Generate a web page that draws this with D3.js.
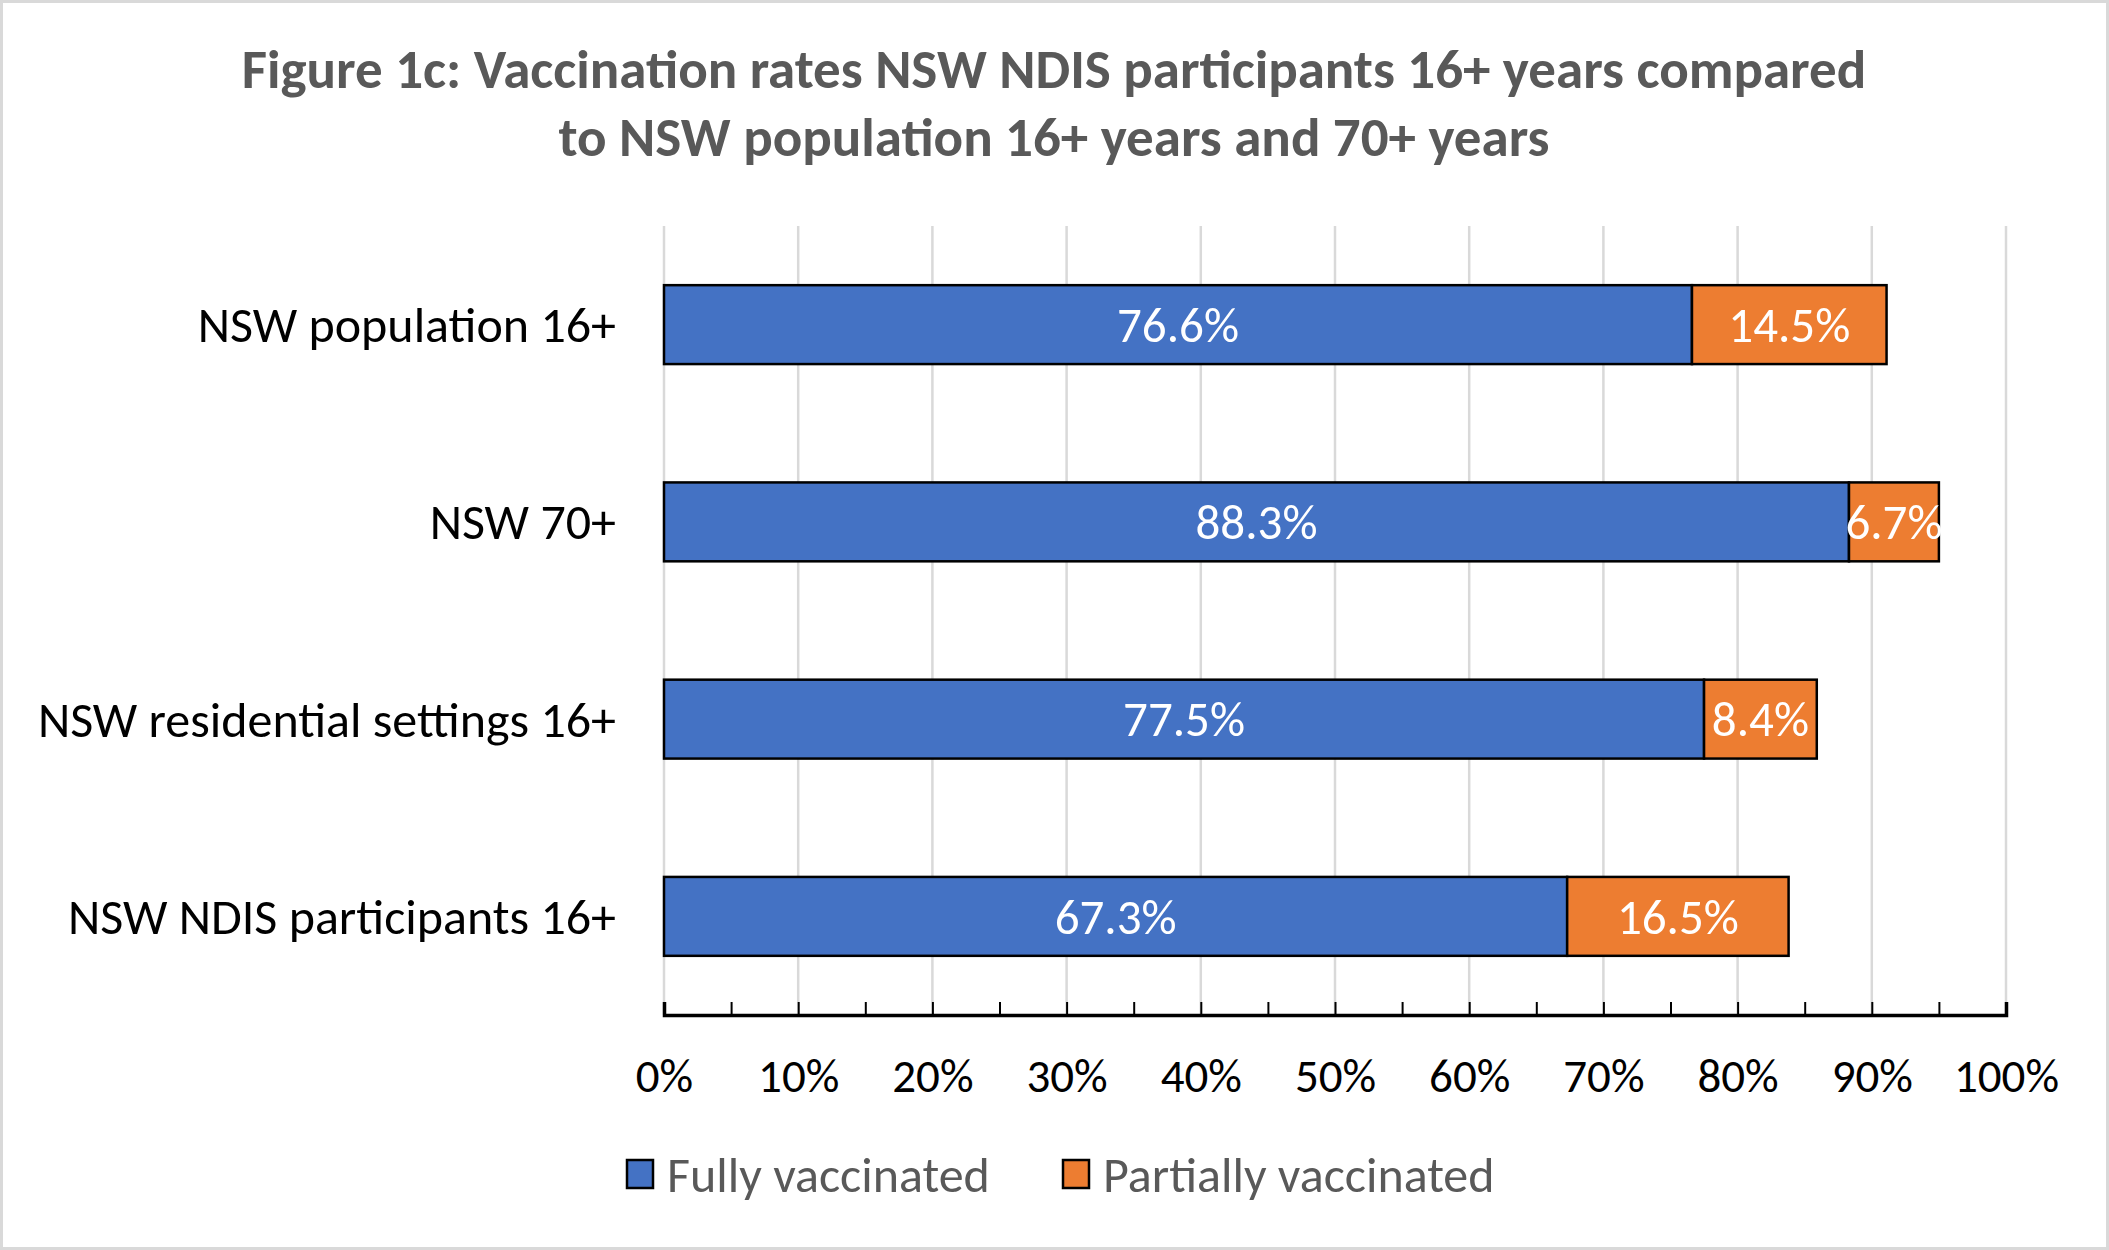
<!DOCTYPE html>
<html>
<head>
<meta charset="utf-8">
<script src="https://cdn.jsdelivr.net/npm/d3@7"></script>
<style>
  body { margin: 0; background: #fff; }
  svg text { font-family: Carlito, Calibri, "Open Sans", sans-serif; }
</style>
</head>
<body>
<script>
const categorias = ["NSW population 16+", "NSW 70+", "NSW residential settings 16+", "NSW NDIS participants 16+"];
const totalmente = [76.6, 88.3, 77.5, 67.3];
const parcialmente = [14.5, 6.7, 8.4, 16.5];
const series = ["Fully vaccinated", "Partially vaccinated"];
const ticks = [0, 10, 20, 30, 40, 50, 60, 70, 80, 90, 100];
const cores = ["#4472C4", "#ED7D31"];

const largura = 2109;
const altura = 1250;
const margens = { c: 226, d: 103, b: 235, e: 664 };
const dim = { l: largura - margens.e - margens.d, a: altura - margens.c - margens.b };

var svg = d3.select("body")
            .append("svg")
            .attr("width", largura)
            .attr("height", altura);

svg.append("rect")
   .attr("x", 1.5).attr("y", 1.5)
   .attr("width", largura - 3).attr("height", altura - 3)
   .attr("fill", "#fff")
   .attr("stroke", "#d9d9d9")
   .attr("stroke-width", 3);

// titulo
var titulo = svg.append("text")
                .attr("x", 1054)
                .attr("y", 88)
                .attr("text-anchor", "middle")
                .attr("fill", "#595959")
                .attr("font-weight", "bold")
                .attr("font-size", 55);
titulo.append("tspan").attr("x", 1054).attr("dy", 0)
      .text("Figure 1c: Vaccination rates NSW NDIS participants 16+ years compared");
titulo.append("tspan").attr("x", 1054).attr("dy", 68)
      .text("to NSW population 16+ years and 70+ years");

var grafico = svg.append("g")
                 .attr("transform", "translate(" + margens.e + ", " + margens.c + ")");

var xEscala = d3.scaleLinear()
                .domain([0, 100])
                .range([0, dim.l]);

var yEscala = d3.scaleBand()
                .domain(categorias)
                .range([0, dim.a])
                .paddingInner(0.6)
                .paddingOuter(0.3);

// grade
grafico.append("g")
       .selectAll("line")
       .data(ticks)
       .enter()
       .append("line")
       .attr("x1", function(d) { return xEscala(d); })
       .attr("x2", function(d) { return xEscala(d); })
       .attr("y1", 0)
       .attr("y2", dim.a)
       .attr("stroke", "#d9d9d9")
       .attr("stroke-width", 2.5);

// eixo x
var xEixo = d3.axisBottom()
              .scale(xEscala)
              .tickValues(d3.range(0, 101, 5))
              .tickSize(-13)
              .tickFormat(function(d) { return ticks.indexOf(d) >= 0 ? d + "%" : ""; });

var eixo = grafico.append("g")
                  .attr("transform", "translate(0, " + dim.a + ")")
                  .call(xEixo);
eixo.select(".domain").attr("stroke", "#000").attr("stroke-width", 3.5);
eixo.selectAll(".tick line").attr("stroke", "#000").attr("stroke-width", 2);
eixo.selectAll(".tick text")
    .attr("font-size", 47)
    .attr("fill", "#000")
    .attr("y", 77)
    .attr("dy", 0);

// rotulos das categorias
grafico.append("g")
       .selectAll("text")
       .data(categorias)
       .enter()
       .append("text")
       .attr("x", -48)
       .attr("y", function(d) { return yEscala(d) + yEscala.bandwidth() / 2; })
       .attr("dy", "0.35em")
       .attr("text-anchor", "end")
       .attr("font-size", 50)
       .attr("fill", "#000")
       .text(function(d) { return d; });

// barras
var dados = categorias.map(function(c, i) {
  return { cat: c, v: [totalmente[i], parcialmente[i]] };
});

var linhas = grafico.append("g")
                    .selectAll("g")
                    .data(dados)
                    .enter()
                    .append("g");

linhas.each(function(d) {
  var g = d3.select(this);
  var inicio = 0;
  d.v.forEach(function(v, j) {
    g.append("rect")
     .attr("x", xEscala(inicio))
     .attr("y", yEscala(d.cat))
     .attr("width", xEscala(inicio + v) - xEscala(inicio))
     .attr("height", yEscala.bandwidth())
     .attr("fill", cores[j])
     .attr("stroke", "#000")
     .attr("stroke-width", 2.5);
    g.append("text")
     .attr("x", xEscala(inicio + v / 2))
     .attr("y", yEscala(d.cat) + yEscala.bandwidth() / 2)
     .attr("dy", "0.35em")
     .attr("text-anchor", "middle")
     .attr("font-size", 49)
     .attr("fill", "#fff")
     .text(v.toFixed(1) + "%");
    inicio += v;
  });
});

// legenda
var legX = [627, 1063];
var legenda = svg.append("g")
                 .selectAll("g")
                 .data(series)
                 .enter()
                 .append("g")
                 .attr("transform", function(d, i) { return "translate(" + legX[i] + ", 1160)"; });

legenda.append("rect")
       .attr("width", 26)
       .attr("height", 28)
       .attr("fill", function(d, i) { return cores[i]; })
       .attr("stroke", "#000")
       .attr("stroke-width", 2.5);

legenda.append("text")
       .attr("x", 40)
       .attr("y", 14)
       .attr("dy", "0.35em")
       .attr("font-size", 50)
       .attr("fill", "#595959")
       .text(function(d) { return d; });
</script>
</body>
</html>
